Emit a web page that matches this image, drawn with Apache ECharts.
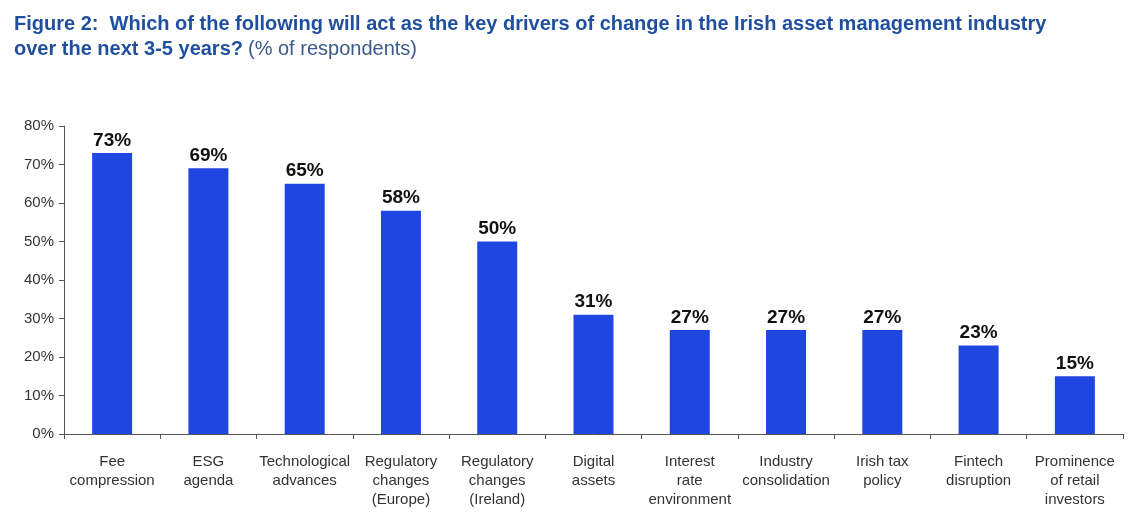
<!DOCTYPE html>
<html><head><meta charset="utf-8">
<script src="https://cdn.jsdelivr.net/npm/echarts@6/dist/echarts.min.js"></script>
<style>html,body{margin:0;padding:0;background:#fff}#c{width:1140px;height:520px}</style>
</head><body><div id="c"></div>
<script>
const categories = ["Fee\ncompression","ESG\nagenda","Technological\nadvances","Regulatory\nchanges\n(Europe)","Regulatory\nchanges\n(Ireland)","Digital\nassets","Interest\nrate\nenvironment","Industry\nconsolidation","Irish tax\npolicy","Fintech\ndisruption","Prominence\nof retail\ninvestors"];
const values = [73,69,65,58,50,31,27,27,27,23,15];
const yTicks = [0,10,20,30,40,50,60,70,80];
const chart = echarts.init(document.getElementById('c'));
const F = '"Liberation Sans", Arial, sans-serif';
chart.setOption({
  animation:false,
  title:{
    left:9, top:7,
    text:'{b|Figure 2:  Which of the following will act as the key drivers of change in the Irish asset management industry}\n{b|over the next 3-5 years?} {n|(% of respondents)}',
    textStyle:{rich:{
      b:{fontFamily:F,fontWeight:'bold',fontSize:20,color:'#1f4f9e',lineHeight:25},
      n:{fontFamily:F,fontWeight:'normal',fontSize:20,color:'#3a5a8a',lineHeight:25}
    }}
  },
  grid:{left:64,right:17,top:126,bottom:86,containLabel:false},
  xAxis:{type:'category',data:categories,
    axisLine:{lineStyle:{color:'#555'}},
    axisTick:{show:true,alignWithLabel:false,length:5,lineStyle:{color:'#555'}},
    axisLabel:{interval:0,fontFamily:F,fontSize:15,color:'#333',lineHeight:19,margin:18}
  },
  yAxis:{type:'value',min:0,max:80,interval:10,
    axisLine:{show:true,lineStyle:{color:'#555'}},
    axisTick:{show:true,length:5,lineStyle:{color:'#555'}},
    splitLine:{show:false},
    axisLabel:{fontFamily:F,fontSize:15,color:'#333',margin:10,formatter:v=>yTicks.includes(v)?v+'%':''}
  },
  series:[{type:'bar',data:values,barWidth:40,
    itemStyle:{color:'#1f47e0'},
    label:{show:true,position:'top',distance:3,formatter:'{c}%',fontFamily:F,fontWeight:'bold',fontSize:19,color:'#111'}
  }]
});
</script></body></html>
